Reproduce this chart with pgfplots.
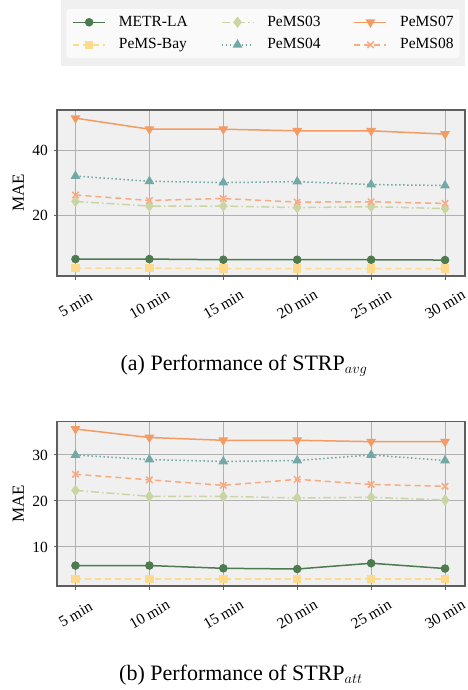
\documentclass[border=0pt]{standalone}
\usepackage{fontspec}
\setmainfont{Liberation Serif}
\usepackage{pgfplots}
\pgfplotsset{compat=1.18}

\definecolor{axbg}{HTML}{F0F0F0}
\definecolor{legbg}{HTML}{FAFAFA}
\definecolor{gridgray}{HTML}{B0B0B0}
\definecolor{framegray}{HTML}{5E5E5E}
\definecolor{cmetr}{HTML}{4E7A50}
\definecolor{cbay}{HTML}{FDDA8C}
\definecolor{cp03}{HTML}{C9D6A3}
\definecolor{cp04}{HTML}{72A8A5}
\definecolor{cp07}{HTML}{F39B63}
\definecolor{cp08}{HTML}{FAAA80}

\pgfplotsset{
  strp/.style={
    scale only axis, width=408pt,
    xmin=-0.25, xmax=5.27,
    xtick={0,1,2,3,4,5},
    xticklabels={5 min,10 min,15 min,20 min,25 min,30 min},
    xtick pos=bottom, ytick pos=left,
    tick align=outside, major tick length=3.5pt,
    tick style={color=framegray, line width=1pt},
    grid=major, grid style={color=gridgray, line width=1pt},
    axis line style={draw=framegray, line width=1.5pt},
    axis background/.style={fill=axbg},
    ticklabel style={font=\fontsize{15.5}{18}\selectfont},
    /pgf/number format/assume math mode=true,
    xticklabel style={yshift=-25pt, rotate=30, anchor=center},
    yticklabel style={xshift=-2pt},
    ylabel={MAE},
    every axis y label/.style={at={(axis description cs:-0.095,0.5)}, rotate=90, anchor=center,
      font=\fontsize{17}{20}\selectfont},
    legend image code/.code={\draw[mark repeat=2,mark phase=2]
      plot coordinates {(0pt,0pt) (16pt,0pt) (32pt,0pt)};},
  },
  smetr/.style={color=cmetr, line width=1.5pt, mark=*, mark size=3.5pt, mark options={solid}},
  sbay/.style={color=cbay, line width=1.5pt, dash pattern=on 6pt off 4pt, mark=square*, mark size=3.5pt, mark options={solid}},
  sp03/.style={color=cp03, line width=1.5pt, dash pattern=on 8pt off 3pt on 1.5pt off 3pt, mark=diamond*, mark size=4.5pt, mark options={solid}},
  sp04/.style={color=cp04, line width=1.5pt, dash pattern=on 1.5pt off 2.5pt, mark=triangle*, mark size=4.2pt, mark options={solid}},
  sp07/.style={color=cp07, line width=1.5pt, mark=triangle*, mark size=4.2pt, mark options={solid, rotate=180}},
  sp08/.style={color=cp08, line width=1.5pt, dash pattern=on 6pt off 4pt, mark=x, mark size=4.5pt, mark options={solid}},
}

\begin{document}
\begin{tikzpicture}
\path[use as bounding box] (0pt,-690pt) rectangle (467pt,0pt);
\fill[axbg] (61pt,0pt) rectangle (465pt,-66pt);

% (a) STRP_avg
\begin{axis}[strp,
  at={(57pt,-276pt)}, anchor=south west, height=166pt,
  ymin=1.5, ymax=52.5, ytick={20,40},
  legend columns=3,
  legend cell align=left,
  legend style={at={(axis description cs:0.5049,1.4608)}, anchor=center,
    fill=legbg, draw=none, rounded corners=3pt, inner sep=6pt,
    column sep=13pt, row sep=8pt,
    /tikz/every even column/.append style={column sep=33pt},
    nodes={inner sep=0pt, text height=11pt, text depth=3.5pt, font=\fontsize{15.5}{18}\selectfont}},
]
\addplot[smetr] coordinates {(0,6.7) (1,6.7) (2,6.5) (3,6.5) (4,6.5) (5,6.4)};
\addlegendentry{METR-LA}
\addplot[sp03] coordinates {(0,24.4) (1,23.0) (2,23.0) (3,22.5) (4,22.8) (5,22.2)};
\addlegendentry{PeMS03}
\addplot[sp07] coordinates {(0,50.0) (1,46.6) (2,46.6) (3,46.1) (4,46.1) (5,45.1)};
\addlegendentry{PeMS07}
\addplot[sbay] coordinates {(0,3.9) (1,3.9) (2,3.8) (3,3.8) (4,3.8) (5,3.8)};
\addlegendentry{PeMS-Bay}
\addplot[sp04] coordinates {(0,32.2) (1,30.6) (2,30.2) (3,30.5) (4,29.6) (5,29.3)};
\addlegendentry{PeMS04}
\addplot[sp08] coordinates {(0,26.4) (1,24.7) (2,25.3) (3,24.2) (4,24.3) (5,23.8)};
\addlegendentry{PeMS08}
\end{axis}
\node[anchor=base, font=\fontsize{22}{26}\selectfont] at (244pt,-370.7pt)
  {(a) Performance of STRP$_{avg}$};

% (b) STRP_att
\begin{axis}[strp,
  at={(57pt,-586pt)}, anchor=south west, height=164.3pt,
  ymin=1.5, ymax=37.24, ytick={10,20,30},
]
\addplot[smetr] coordinates {(0,5.95) (1,5.95) (2,5.35) (3,5.2) (4,6.45) (5,5.3)};
\addplot[sp03] coordinates {(0,22.3) (1,21.0) (2,21.0) (3,20.65) (4,20.8) (5,20.2)};
\addplot[sp07] coordinates {(0,35.65) (1,33.8) (2,33.2) (3,33.2) (4,32.9) (5,32.9)};
\addplot[sbay] coordinates {(0,3.05) (1,3.05) (2,3.05) (3,3.05) (4,3.05) (5,3.05)};
\addplot[sp04] coordinates {(0,30.0) (1,29.0) (2,28.6) (3,28.8) (4,30.0) (5,28.8)};
\addplot[sp08] coordinates {(0,25.8) (1,24.6) (2,23.4) (3,24.7) (4,23.6) (5,23.2)};
\end{axis}
\node[anchor=base, font=\fontsize{22}{26}\selectfont] at (241pt,-680pt)
  {(b) Performance of STRP$_{att}$};
\end{tikzpicture}
\end{document}
